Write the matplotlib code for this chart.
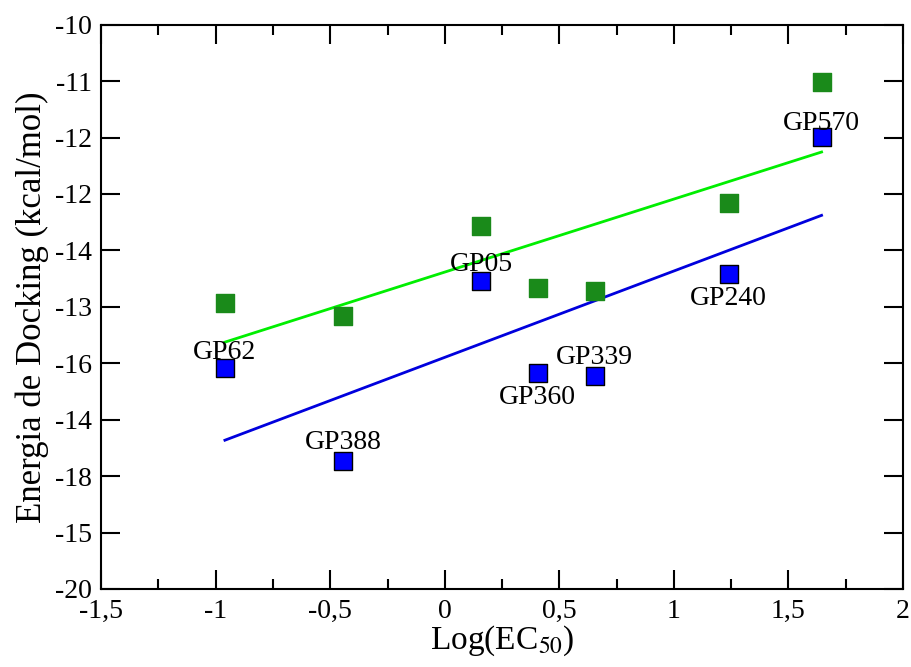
import numpy as np
import matplotlib
matplotlib.use("Agg")
import matplotlib.pyplot as plt
from matplotlib.ticker import MultipleLocator

# data
log_ec50 = [-0.96, -0.445, 0.158, 0.405, 0.655, 1.24, 1.645]
nomes = ['GP62', 'GP388', 'GP05', 'GP360', 'GP339', 'GP240', 'GP570']
energia_azul = [-16.08, -17.73, -14.54, -16.17, -16.22, -14.41, -11.99]
energia_verde = [-14.93, -15.16, -13.56, -14.66, -14.72, -13.16, -11.01]

yticks = [-10, -11, -12, -13, -14, -15, -16, -17, -18, -19, -20]
ytick_labels = ['-10', '-11', '-12', '-12', '-14', '-13', '-16', '-14', '-18', '-15', '-20']
xticks = [-1.5, -1, -0.5, 0, 0.5, 1, 1.5, 2]
xtick_labels = ['-1,5', '-1', '-0,5', '0', '0,5', '1', '1,5', '2']

# label offsets (points) - above / below the marker
offsets = {'GP62': (0, 2), 'GP388': (0, 4), 'GP05': (0, 3), 'GP360': (0, -9),
           'GP339': (0, 4), 'GP240': (0, -9), 'GP570': (0, 1)}

plt.rcParams['font.family'] = ['Liberation Serif', 'DejaVu Serif']
plt.rcParams['mathtext.fontset'] = 'stix'

fig = plt.figure(figsize=(9.12, 6.67), dpi=100)
ax = fig.add_axes([0.111, 0.117, 0.879, 0.846])

x = np.array(log_ec50)
xl = np.array([x.min(), x.max()])
for ys, cor in [(energia_verde, '#00ee00'), (energia_azul, '#0000dd')]:
    a, b = np.polyfit(x, ys, 1)
    ax.plot(xl, a * xl + b, color=cor, lw=2, zorder=2)

ax.scatter(log_ec50, energia_verde, marker='s', s=170, color='#1a8a1a', edgecolors='#1a8a1a', zorder=3)
ax.scatter(log_ec50, energia_azul, marker='s', s=170, color='#0000ff', edgecolors='black', linewidths=1.0, zorder=3)

for xi, yi, n in zip(log_ec50, energia_azul, nomes):
    dx, dy = offsets[n]
    va = 'bottom' if dy > 0 else 'top'
    ax.annotate(n, (xi, yi), xytext=(dx, dy), textcoords='offset points',
                ha='center', va=va, fontsize=20, zorder=4)

ax.set_xlim(-1.5, 2)
ax.set_ylim(-20, -10)
ax.set_xticks(xticks)
ax.set_xticklabels(xtick_labels)
ax.set_yticks(yticks)
ax.set_yticklabels(ytick_labels)
ax.xaxis.set_minor_locator(MultipleLocator(0.25))
ax.tick_params(which='both', direction='in', top=True, right=True, labelsize=20, width=1.5)
ax.tick_params(which='major', length=14, pad=7)
ax.tick_params(which='minor', length=7)
for sp in ax.spines.values():
    sp.set_linewidth(1.5)

ax.set_xlabel('Log(EC$_{50}$)', fontsize=24, labelpad=0)
ax.set_ylabel('Energia de Docking (kcal/mol)', fontsize=25, labelpad=4)

fig.savefig('out.png', dpi=100)
